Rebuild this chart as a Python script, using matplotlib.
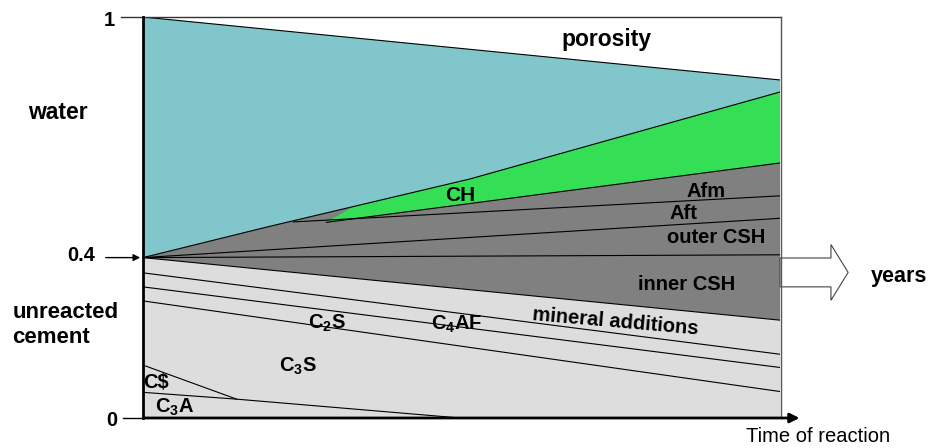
import numpy as np
import matplotlib.pyplot as plt
from matplotlib.patches import FancyArrow

# style setup
plt.rcParams['font.family'] = 'Liberation Sans'
plt.rcParams['mathtext.fontset'] = 'custom'
plt.rcParams['mathtext.rm'] = 'Liberation Sans:bold'
plt.rcParams['mathtext.it'] = 'Liberation Sans:bold'
plt.rcParams['mathtext.bf'] = 'Liberation Sans:bold'
plt.rcParams['mathtext.default'] = 'regular'

# boundaries (x = fraction of reaction time, y = volume fraction)
porosity_x = [0, 1]
porosity_y = [1.0, 0.843]
water_bot_x = [0, 0.199, 0.513, 1]
water_bot_y = [0.4, 0.478, 0.596, 0.813]
ch_x = [0.288, 0.33, 0.513, 1, 1]
ch_y = [0.488, 0.527, 0.596, 0.813, 0.636]
ch_bot_x = [0.288, 1]
ch_bot_y = [0.488, 0.636]
afm_x = [0.236, 1]
afm_y = [0.489, 0.554]
edge_x = [0, 1]
aft_y = [0.4, 0.498]
outer_y = [0.4, 0.407]
inner_y = [0.4, 0.244]
c4af_y = [0.362, 0.159]
c2s_y = [0.327, 0.126]
c3s_y = [0.292, 0.066]
cs_x = [0, 0.147]
cs_y = [0.132, 0.047]
c3a_x = [0, 0.147, 0.498]
c3a_y = [0.064, 0.047, 0.0]

teal = '#81C6CA'
green = '#34DE55'
dark = '#808080'
light = '#DDDDDD'

fig = plt.figure(figsize=(9.32, 4.48), dpi=100)
ax = fig.add_axes([143 / 932, 30 / 448, 637 / 932, 401 / 448])
ax.set_xlim(0, 1)
ax.set_ylim(0, 1)
ax.axis('off')

# filled regions
ax.fill(porosity_x + water_bot_x[::-1], porosity_y + water_bot_y[::-1], color=teal, lw=0)
ax.fill(water_bot_x + [1, 0], water_bot_y + [inner_y[1], inner_y[0]], color=dark, lw=0)
ax.fill(ch_x, ch_y, color=green, lw=0)
ax.fill([0, 1, 1, 0], [inner_y[0], inner_y[1], 0, 0], color=light, lw=0)

# boundary lines
lk = dict(color='black', lw=0.8)
ax.plot(porosity_x, porosity_y, **lk)
ax.plot(water_bot_x, water_bot_y, **lk)
ax.plot(ch_bot_x, ch_bot_y, **lk)
ax.plot(afm_x, afm_y, **lk)
for yy in [aft_y, outer_y, inner_y, c4af_y, c2s_y, c3s_y]:
    ax.plot(edge_x, yy, **lk)
ax.plot(cs_x, cs_y, **lk)
ax.plot(c3a_x, c3a_y, **lk)

# frame
ax.plot([-0.035, 1.002], [1.0, 1.0], color='#333333', lw=1, clip_on=False)
ax.plot([1.002, 1.002], [0, 1.0], color='#555555', lw=1, clip_on=False)
ax.plot([0, 0], [0, 1.0], color='black', lw=2, clip_on=False)
ax.annotate('', xy=(1.035, 0), xytext=(-0.002, 0),
            arrowprops=dict(arrowstyle='-|>', color='black', lw=2, mutation_scale=14), annotation_clip=False)
ax.plot([-0.032, 0], [0, 0], color='black', lw=1, clip_on=False)
ax.annotate('', xy=(0, 0.4), xytext=(-0.063, 0.4),
            arrowprops=dict(arrowstyle='-|>', color='black', lw=1, mutation_scale=10), annotation_clip=False)

# big hollow arrow
ax.add_patch(FancyArrow(1.0, 0.363, 0.107, 0, width=0.072, head_width=0.139, head_length=0.027,
                        length_includes_head=True, fc='white', ec='#444444', lw=0.8, clip_on=False))

# labels
tk = dict(fontweight='bold', clip_on=False)
ax.text(0.727, 0.943, 'porosity', fontsize=16.5, ha='center', va='center', **tk)
ax.text(-0.1334, 0.761, 'water', fontsize=16.5, ha='center', va='center', **tk)
ax.text(-0.205, 0.232, 'unreacted\ncement', fontsize=16, ha='left', va='center', linespacing=1.28, **tk)
ax.text(-0.053, 0.9925, '1', fontsize=14.5, ha='center', va='center', **tk)
ax.text(-0.075, 0.404, '0.4', fontsize=14.5, ha='right', va='center', **tk)
ax.text(-0.049, -0.005, '0', fontsize=14.5, ha='center', va='center', **tk)
ax.text(0.4976, 0.556, 'CH', fontsize=15, ha='center', va='center', **tk)
ax.text(0.884, 0.564, 'Afm', fontsize=14.5, ha='center', va='center', **tk)
ax.text(0.849, 0.511, 'Aft', fontsize=14.5, ha='center', va='center', **tk)
ax.text(0.9, 0.451, 'outer CSH', fontsize=14.5, ha='center', va='center', **tk)
ax.text(0.853, 0.333, 'inner CSH', fontsize=14.5, ha='center', va='center', **tk)
ax.text(0.741, 0.240, 'mineral additions', fontsize=14.5, ha='center', va='center', rotation=-5,
        rotation_mode='anchor', **tk)
ax.text(0.288, 0.2237, r'C$_2$S', fontsize=14.5, ha='center', va='baseline', **tk)
ax.text(0.493, 0.2195, r'C$_4$AF', fontsize=14.5, ha='center', va='baseline', **tk)
ax.text(0.2435, 0.1155, r'C$_3$S', fontsize=14.5, ha='center', va='baseline', **tk)
ax.text(0.0204, 0.0873, 'C$', fontsize=14.5, ha='center', va='center', **tk)
ax.text(0.0497, 0.0132, r'C$_3$A', fontsize=14.5, ha='center', va='baseline', **tk)
ax.text(1.187, 0.352, 'years', fontsize=15.5, ha='center', va='center', **tk)
ax.text(1.059, -0.047, 'Time of reaction', fontsize=14.5, ha='center', va='center', clip_on=False)

plt.savefig('out.png', dpi=100)
plt.close()
